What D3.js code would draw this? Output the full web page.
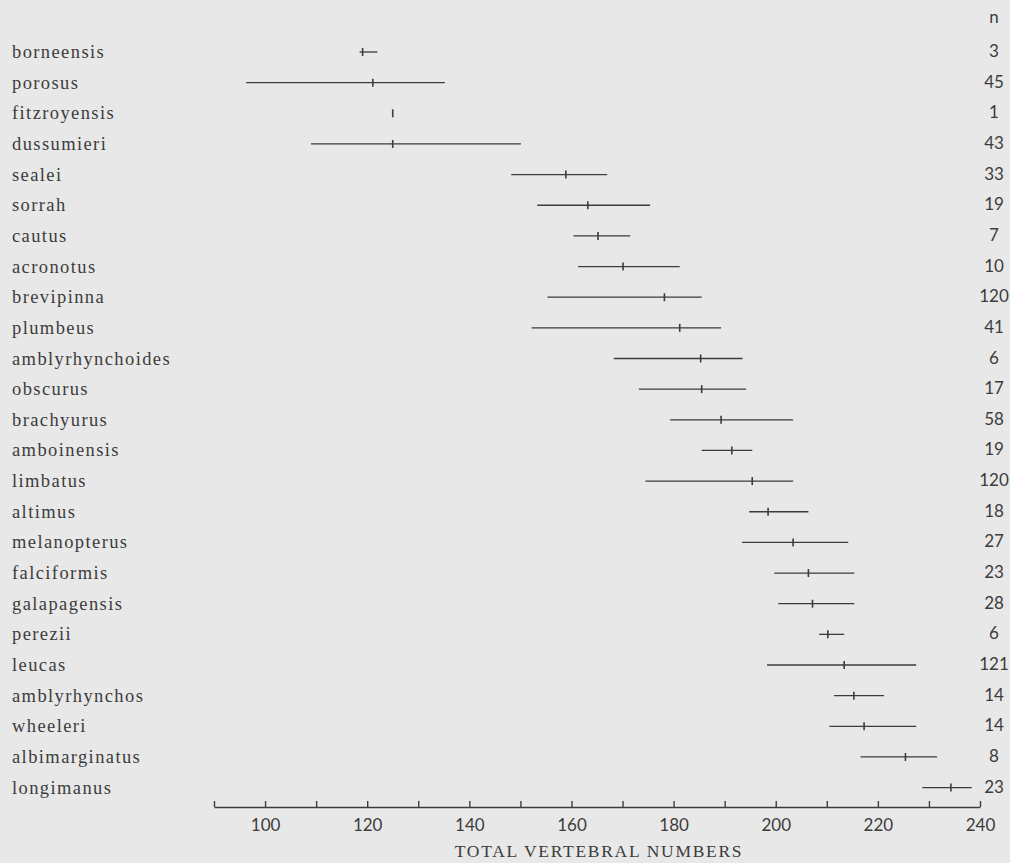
<!DOCTYPE html>
<html>
<head>
<meta charset="utf-8">
<script src="https://cdn.jsdelivr.net/npm/d3@7"></script>
<style>
  html, body { margin: 0; padding: 0; background: #e8e8e8; }
  svg { display: block; }
</style>
</head>
<body>
<svg id="chart" width="1010" height="863"></svg>
<script>
const species = ["borneensis","porosus","fitzroyensis","dussumieri","sealei","sorrah","cautus","acronotus","brevipinna","plumbeus","amblyrhynchoides","obscurus","brachyurus","amboinensis","limbatus","altimus","melanopterus","falciformis","galapagensis","perezii","leucas","amblyrhynchos","wheeleri","albimarginatus","longimanus"];
const nValues   = [3,45,1,43,33,19,7,10,120,41,6,17,58,19,120,18,27,23,28,6,121,14,14,8,23];
const minValues = [118.5,96.3,125.0,109.0,148.2,153.3,160.4,161.3,155.3,152.2,168.3,173.2,179.3,185.5,174.5,194.8,193.4,199.7,200.5,208.5,198.3,211.4,210.5,216.6,228.7];
const meanValues= [119.1,121.1,125.0,125.0,158.9,163.2,165.2,170.1,178.2,181.2,185.3,185.5,189.3,191.4,195.4,198.5,203.4,206.4,207.2,210.2,213.4,215.3,217.3,225.4,234.3];
const maxValues = [122.0,135.2,125.0,150.1,167.0,175.4,171.5,181.2,185.5,189.3,193.5,194.2,203.4,195.4,203.4,206.4,214.2,215.4,215.4,213.4,227.5,221.2,227.5,231.6,238.4];
const tickValues = [90,100,110,120,130,140,150,160,170,180,190,200,210,220,230,240];
const labelledTicks = [100,120,140,160,180,200,220,240];
const axisTitle = "TOTAL VERTEBRAL NUMBERS";
const nHeader = "n";

const data = species.map((s, i) => ({species: s, n: nValues[i], min: minValues[i], mean: meanValues[i], max: maxValues[i]}));

const svg = d3.select("#chart");
const ink = "#3c3c3c";

const x = d3.scaleLinear().domain([90, 240]).range([214, 980]);
const step = 30.65;
const y = d3.scalePoint().domain(species).range([52, 52 + step * (species.length - 1)]);

// range lines
svg.append("g").selectAll("line").data(data).join("line")
  .attr("x1", d => x(d.min)).attr("x2", d => x(d.max))
  .attr("y1", d => y(d.species)).attr("y2", d => y(d.species))
  .attr("stroke", ink).attr("stroke-width", 1.3);

// mean ticks
svg.append("g").selectAll("line").data(data).join("line")
  .attr("x1", d => x(d.mean)).attr("x2", d => x(d.mean))
  .attr("y1", d => y(d.species) - 4).attr("y2", d => y(d.species) + 4)
  .attr("stroke", ink).attr("stroke-width", 1.6);

// species labels
svg.append("g").selectAll("text").data(data).join("text")
  .attr("x", 12).attr("y", d => y(d.species) + 6)
  .attr("font-family", "'Liberation Serif', serif")
  .attr("font-size", 18.5).attr("letter-spacing", 1.4)
  .attr("fill", ink)
  .text(d => d.species);

// n column
svg.append("text").attr("x", 994).attr("y", 23).attr("text-anchor", "middle")
  .attr("font-family", "Lato, sans-serif").attr("font-size", 17).attr("fill", ink)
  .text(nHeader);
svg.append("g").selectAll("text").data(data).join("text")
  .attr("x", 994).attr("y", d => y(d.species) + 5).attr("text-anchor", "middle")
  .attr("font-family", "Lato, sans-serif").attr("font-size", 17).attr("fill", ink)
  .text(d => d.n);

// axis
const axis = d3.axisBottom(x)
  .tickValues(tickValues)
  .tickSizeInner(-6).tickSizeOuter(0)
  .tickFormat(v => labelledTicks.includes(v) ? d3.format("d")(v) : "");
const gAxis = svg.append("g").attr("transform", "translate(0,807)").call(axis);
gAxis.select(".domain").attr("stroke", ink).attr("stroke-width", 1.4);
gAxis.selectAll(".tick line").attr("stroke", ink).attr("stroke-width", 1.4);
gAxis.selectAll(".tick text")
  .attr("y", 24).attr("dy", 0)
  .attr("font-family", "Lato, sans-serif").attr("font-size", 17).attr("fill", ink);

svg.append("text").attr("x", 599).attr("y", 857).attr("text-anchor", "middle")
  .attr("font-family", "'Liberation Serif', serif").attr("font-size", 17.5).attr("letter-spacing", 1.7)
  .attr("fill", ink).text(axisTitle);
</script>
</body>
</html>
